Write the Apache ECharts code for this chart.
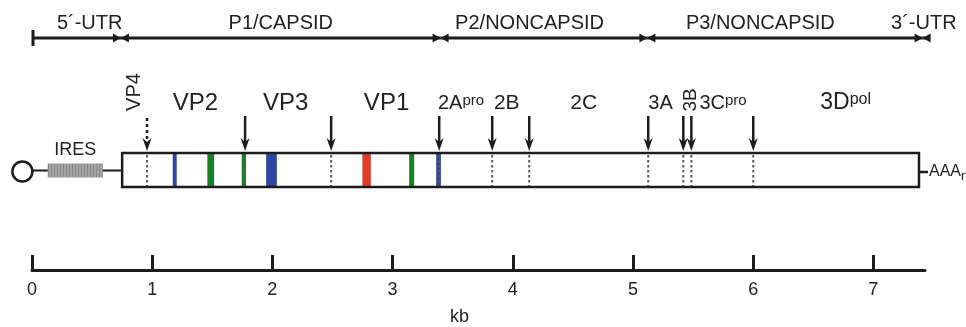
<!DOCTYPE html>
<html>
<head>
<meta charset="UTF-8">
<title>Picornavirus genome map</title>
<script src="https://cdn.jsdelivr.net/npm/echarts@6/dist/echarts.min.js"></script>
<style>
  html, body { margin: 0; padding: 0; background: #fff; }
  #main { width: 966px; height: 327px; }
</style>
</head>
<body>
<div id="main"></div>
<script>
// ---- data (all positions in kb along the genome) ----
var regionNames   = ['5´-UTR', 'P1/CAPSID', 'P2/NONCAPSID', 'P3/NONCAPSID', '3´-UTR'];
var regionStart   = [0, 0.74, 3.40, 5.12, 7.41];
var regionEnd     = [0.74, 3.40, 5.12, 7.41, 7.47];
var regionLabelAt = [0.48, 2.07, 4.14, 6.06, 7.42];

var capPos     = [-0.08];
var iresSpan   = [0.13, 0.59];
var genomeSpan = [0.75, 7.38];

// coloured marks inside the polyprotein box
var bandStart = [1.171, 1.459, 1.745, 1.948, 2.749, 3.138, 3.363];
var bandEnd   = [1.204, 1.515, 1.781, 2.037, 2.819, 3.180, 3.402];
var bandKind  = ['blue', 'green', 'green', 'blue', 'red', 'green', 'blue'];

// cleavage sites
var siteKb   = [0.957, 1.773, 2.489, 3.388, 3.829, 4.137, 5.127, 5.419, 5.486, 6.001];
var siteKind = ['maturation', 'protease', 'protease', 'protease', 'protease',
                'protease', 'protease', 'protease', 'protease', 'protease'];

// protein names
var proteinName = ['VP4', 'VP2', 'VP3', 'VP1', '2A', '2B', '2C', '3A', '3B', '3C', '3D'];
var proteinSup  = ['', '', '', '', 'pro', '', '', '', '', 'pro', 'pol'];
var proteinAt   = [0.85, 1.36, 2.11, 2.95, 3.57, 3.95, 4.59, 5.23, 5.48, 5.75, 6.77];

var majorTicks = [0, 1, 2, 3, 4, 5, 6, 7];
var minorTicks = [0.5, 1.5, 2.5, 3.5, 4.5, 5.5, 6.5];

// ---- layout / style ----
var FONT = "'Liberation Sans', Arial, Helvetica, sans-serif";
var INK = '#1c1c1c';
var BAND_COLOR = { blue: '#2f45a0', green: '#16802b', red: '#e2392a' };
var ROW = {
  region: 38, regionLabel: 23,
  label: 103, arrowTop: 116, arrowTip: 151,
  boxTop: 153, boxBottom: 187, rna: 170.5, tail: 172
};
var LABEL_SIZE = { VP4: 20, VP2: 24, VP3: 24, VP1: 24, '2A': 20, '2B': 21, '2C': 21,
                   '3A': 20, '3B': 19, '3C': 20, '3D': 23 };
var ROTATED = { VP4: 92, '3B': 100 };

var irespat = document.createElement('canvas');
irespat.width = 3; irespat.height = 4;
(function () {
  var c = irespat.getContext('2d');
  c.fillStyle = '#a4a4a4'; c.fillRect(0, 0, 3, 4);
  c.fillStyle = '#8a8a8a'; c.fillRect(0, 0, 1, 4);
})();

function headH(x, y, dir) {
  return { type: 'polygon', shape: { points: [[x, y], [x - dir * 8, y - 4.5], [x - dir * 8, y + 4.5]] },
           style: { fill: INK } };
}
function headDown(x, y) {
  return { type: 'polygon', shape: { points: [[x, y], [x - 4.5, y - 13], [x, y - 9], [x + 4.5, y - 13]] },
           style: { fill: INK } };
}

var chart = echarts.init(document.getElementById('main'), null, { renderer: 'canvas' });

var option = {
  animation: false,
  grid: { left: 32, right: 41, top: 0, bottom: 57, containLabel: false, outerBoundsMode: 'none' },
  xAxis: [{
    type: 'value', min: 0, max: 7.43,
    axisLine: { show: true, onZero: false, lineStyle: { color: INK, width: 3 } },
    axisTick: { show: true, inside: true, length: 15, customValues: majorTicks,
                lineStyle: { color: INK, width: 3 } },
    axisLabel: { customValues: majorTicks, fontSize: 18, color: '#222', margin: 11, fontFamily: FONT },
    splitLine: { show: false },
    name: 'kb', nameLocation: 'middle', nameGap: 38,
    nameTextStyle: { fontSize: 18, color: '#222', fontFamily: FONT, padding: [0, 38, 0, 0] }
  }, {
    type: 'value', min: 0, max: 7.43, position: 'bottom',
    axisLine: { show: false },
    axisTick: { show: true, inside: true, length: 11, customValues: minorTicks,
                lineStyle: { color: INK, width: 3 } },
    axisLabel: { show: false },
    splitLine: { show: false }
  }],
  yAxis: { type: 'value', min: 0, max: 270, inverse: true, show: false },
  series: [
    // polyprotein regions on top
    {
      type: 'custom', clip: false, z: 2,
      data: regionNames.map(function (n, i) { return [regionStart[i], regionEnd[i], regionLabelAt[i], i]; }),
      renderItem: function (params, api) {
        var i = params.dataIndex;
        var last = i === regionNames.length - 1;
        var a = api.coord([api.value(0), ROW.region]);
        var b = api.coord([api.value(1), ROW.region]);
        var t = api.coord([api.value(2), ROW.regionLabel]);
        var ch = [{ type: 'line', shape: { x1: a[0], y1: a[1], x2: b[0], y2: b[1] },
                    style: { stroke: INK, lineWidth: 3 } }];
        if (i === 0) {
          ch.push({ type: 'line', shape: { x1: a[0] + 1, y1: a[1] - 8, x2: a[0] + 1, y2: a[1] + 8 },
                    style: { stroke: INK, lineWidth: 3 } });
        } else {
          ch.push(headH(a[0], a[1], -1));
        }
        if (!last) ch.push(headH(b[0], b[1], 1));
        ch.push({ type: 'text', x: t[0], y: t[1],
                  style: { text: regionNames[i], fontSize: 20, fontFamily: FONT, fill: '#222',
                           align: 'center', verticalAlign: 'middle' } });
        return { type: 'group', children: ch };
      }
    },
    // RNA: cap, IRES, box fill, poly-A tail
    {
      type: 'custom', clip: false, z: 2,
      data: [[capPos[0], iresSpan[0], iresSpan[1], genomeSpan[0], genomeSpan[1]]],
      renderItem: function (params, api) {
        var cap = api.coord([api.value(0), ROW.rna]);
        var i0 = api.coord([api.value(1), ROW.rna - 7]);
        var i1 = api.coord([api.value(2), ROW.rna + 7]);
        var g0 = api.coord([api.value(3), ROW.boxTop]);
        var g1 = api.coord([api.value(4), ROW.boxBottom]);
        var tl = api.coord([api.value(4), ROW.tail]);
        return { type: 'group', children: [
          { type: 'line', shape: { x1: cap[0], y1: cap[1], x2: g0[0], y2: cap[1] },
            style: { stroke: INK, lineWidth: 2 } },
          { type: 'circle', shape: { cx: cap[0], cy: cap[1] + 1, r: 10 },
            style: { fill: '#fff', stroke: INK, lineWidth: 2.5 } },
          { type: 'rect', shape: { x: i0[0], y: i0[1], width: i1[0] - i0[0], height: i1[1] - i0[1] },
            style: { fill: { image: irespat, repeat: 'repeat' } } },
          { type: 'text', x: (i0[0] + i1[0]) / 2, y: i0[1] - 13,
            style: { text: 'IRES', fontSize: 18, fontFamily: FONT, fill: '#222',
                     align: 'center', verticalAlign: 'middle' } },
          { type: 'rect', shape: { x: g0[0], y: g0[1], width: g1[0] - g0[0], height: g1[1] - g0[1] },
            style: { fill: '#fff' } },
          { type: 'line', shape: { x1: tl[0], y1: tl[1], x2: tl[0] + 9, y2: tl[1] },
            style: { stroke: INK, lineWidth: 2.5 } },
          { type: 'text', x: tl[0] + 10, y: tl[1],
            style: { text: '{a|AAA}{n|n}', fontFamily: FONT, fill: '#222',
                     align: 'left', verticalAlign: 'middle',
                     rich: { a: { fontSize: 16, lineHeight: 22, fontFamily: FONT, fill: '#222' },
                             n: { fontSize: 13, lineHeight: 13, verticalAlign: 'bottom',
                                  fontFamily: FONT, fill: '#222' } } } }
        ] };
      }
    },
    // coloured bands
    {
      type: 'custom', clip: false, z: 3,
      data: bandStart.map(function (s, i) { return [s, bandEnd[i], i]; }),
      renderItem: function (params, api) {
        var a = api.coord([api.value(0), ROW.boxTop]);
        var b = api.coord([api.value(1), ROW.boxBottom]);
        return { type: 'rect', shape: { x: a[0], y: a[1], width: b[0] - a[0], height: b[1] - a[1] },
                 style: { fill: BAND_COLOR[bandKind[params.dataIndex]] } };
      }
    },
    // cleavage sites: dotted line in the box + arrow above
    {
      type: 'custom', clip: false, z: 4,
      data: siteKb.map(function (k, i) { return [k, i]; }),
      renderItem: function (params, api) {
        var i = params.dataIndex;
        var top = api.coord([api.value(0), ROW.boxTop]);
        var bot = api.coord([api.value(0), ROW.boxBottom]);
        var a0 = api.coord([api.value(0), ROW.arrowTop]);
        var tip = api.coord([api.value(0), ROW.arrowTip]);
        var dashed = siteKind[i] === 'maturation';
        return { type: 'group', children: [
          { type: 'line', shape: { x1: top[0], y1: top[1] + 2, x2: bot[0], y2: bot[1] - 1 },
            style: { stroke: '#5a5a5a', lineWidth: 2, lineDash: [2.5, 2.5] } },
          { type: 'line', shape: { x1: a0[0], y1: a0[1] + (dashed ? 2 : 0), x2: tip[0], y2: tip[1] - 9 },
            style: { stroke: INK, lineWidth: 2.5, lineDash: dashed ? [3, 3] : null } },
          headDown(tip[0], tip[1])
        ] };
      }
    },
    // box outline on top of bands
    {
      type: 'custom', clip: false, z: 5,
      data: [[genomeSpan[0], genomeSpan[1]]],
      renderItem: function (params, api) {
        var g0 = api.coord([api.value(0), ROW.boxTop]);
        var g1 = api.coord([api.value(1), ROW.boxBottom]);
        return { type: 'rect', shape: { x: g0[0], y: g0[1], width: g1[0] - g0[0], height: g1[1] - g0[1] },
                 style: { fill: null, stroke: INK, lineWidth: 2.5 } };
      }
    },
    // protein labels
    {
      type: 'custom', clip: false, z: 5,
      data: proteinAt.map(function (k, i) { return [k, i]; }),
      renderItem: function (params, api) {
        var i = params.dataIndex;
        var name = proteinName[i];
        var size = LABEL_SIZE[name];
        var rot = ROTATED[name];
        var p = api.coord([api.value(0), rot != null ? rot : ROW.label]);
        var sup = proteinSup[i];
        var style = { fontFamily: FONT, fill: '#222', align: 'center', verticalAlign: 'middle' };
        if (sup) {
          style.text = '{m|' + name + '}{s|' + sup + '}';
          style.rich = {
            m: { fontSize: size, lineHeight: size, fontFamily: FONT, fill: '#222' },
            s: { fontSize: name === '3D' ? 16 : 15, lineHeight: 15, verticalAlign: 'top',
                 fontFamily: FONT, fill: '#222' }
          };
        } else {
          style.text = name;
          style.fontSize = size;
        }
        return { type: 'text', x: p[0], y: p[1], rotation: rot != null ? Math.PI / 2 : 0, style: style };
      }
    }
  ]
};

chart.setOption(option);
</script>
</body>
</html>
